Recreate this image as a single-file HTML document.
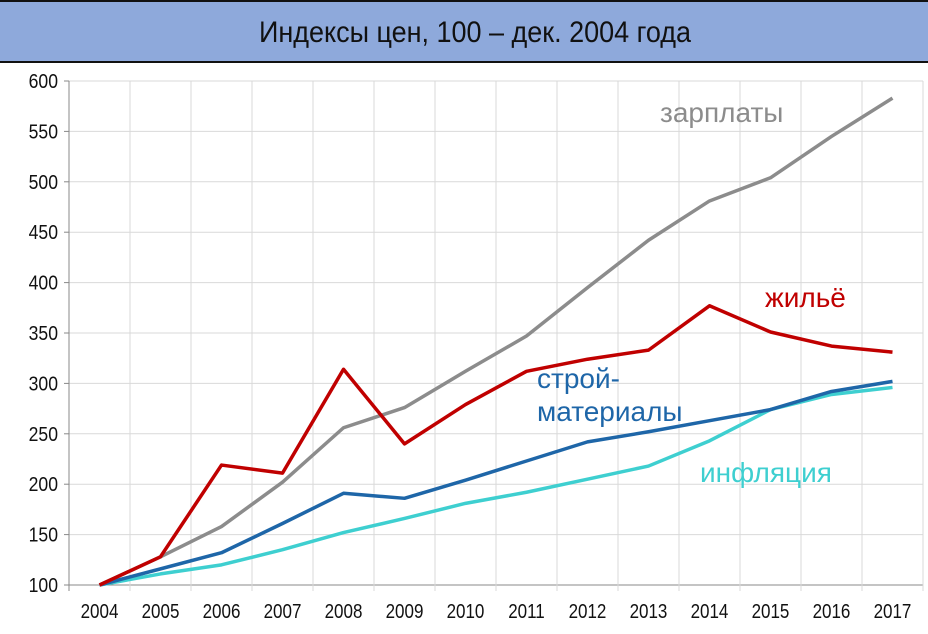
<!DOCTYPE html>
<html><head><meta charset="utf-8"><style>
body{margin:0;width:928px;height:629px;background:#fff;overflow:hidden;font-family:"Liberation Sans",sans-serif}
</style></head><body>
<svg id="c" width="928" height="629" xmlns="http://www.w3.org/2000/svg">
<rect x="0" y="1" width="928" height="61" fill="#8EA9DB"/>
<line x1="0" y1="1" x2="928" y2="1" stroke="#111" stroke-width="2"/>
<line x1="0" y1="62" x2="928" y2="62" stroke="#111" stroke-width="2"/>
<text x="475" y="42" text-anchor="middle" font-size="30" fill="#111" transform="translate(475 0) scale(0.9 1) translate(-475 0)">Индексы цен, 100 – дек. 2004 года</text>
<g id="grid"></g><g id="series"></g><g id="labels"></g>
</svg>
<script>
const years=["2004","2005","2006","2007","2008","2009","2010","2011","2012","2013","2014","2015","2016","2017"];
const yTicks=[100,150,200,250,300,350,400,450,500,550,600];
const wages=[100,128,158,202,256,276,312,347,395,442,481,504,545,583];
const housing=[100,128,219,211,314,240,279,312,324,333,377,351,337,331];
const materials=[100,116,132,161,191,186,204,223,242,252,263,274,292,302];
const inflation=[100,111,120,135,152,166,181,192,205,218,243,274,289,296];
const NS="http://www.w3.org/2000/svg";
const x0=69,x1=923,yb=585,yt=81,ymin=100,ymax=600;
const band=(x1-x0)/years.length;
const X=i=>x0+band*(i+0.5);
const Y=v=>yb-(v-ymin)/(ymax-ymin)*(yb-yt);
function mk(t,a,p){const e=document.createElementNS(NS,t);for(const k in a)e.setAttribute(k,a[k]);p.appendChild(e);return e;}
const g=document.getElementById('grid');
yTicks.forEach(v=>{
 const l=mk('line',{x1:x0,x2:x1,y1:Y(v),y2:Y(v),stroke:v===100?'#888':'#d9d9d9','stroke-width':1},g);
 
 
 mk('line',{x1:x0-5,x2:x0,y1:Y(v),y2:Y(v),stroke:'#888'},g);
 const t=mk('text',{x:58,y:Y(v)+7,'text-anchor':'end','font-size':20,fill:'#111',transform:`translate(58 0) scale(0.88 1) translate(-58 0)`},g);
 t.textContent=v;
 
 
});
for(let i=0;i<=years.length;i++){
 const x=x0+band*i;
 const l=mk('line',{x1:x,x2:x,y1:yt,y2:yb+6,stroke:i===0?'#888':'#d9d9d9'},g);
 
 
}
years.forEach((y,i)=>{
 const t=mk('text',{x:X(i),y:618,'text-anchor':'middle','font-size':20,fill:'#111',transform:`translate(${X(i)} 0) scale(0.85 1) translate(${-X(i)} 0)`},g);
 t.textContent=y;
 
 
});
const s=document.getElementById('series');
[[inflation,'#3ECFD0','inflation-line'],[materials,'#1E66A8','materials-line'],[wages,'#8C8C8C','wages-line'],[housing,'#C00000','housing-line']].forEach(([d,c,n])=>{
 const p=mk('polyline',{points:d.map((v,i)=>X(i)+','+Y(v)).join(' '),fill:'none',stroke:c,'stroke-width':3.5,'stroke-linejoin':'round'},s);
 
 
});
const L=document.getElementById('labels');
[['зарплаты',660,122,'#8C8C8C','wages-label'],['жильё',765,307,'#C00000','housing-label'],['строй-',537,388,'#1E66A8','materials-label-1'],['материалы',537,421,'#1E66A8','materials-label-2'],['инфляция',700,482,'#3ECFD0','inflation-label']].forEach(([t,x,y,c,n])=>{
 const e=mk('text',{x:x,y:y,'font-size':28,fill:c},L);
 e.textContent=t;
 
 
});
</script>
</body></html>
